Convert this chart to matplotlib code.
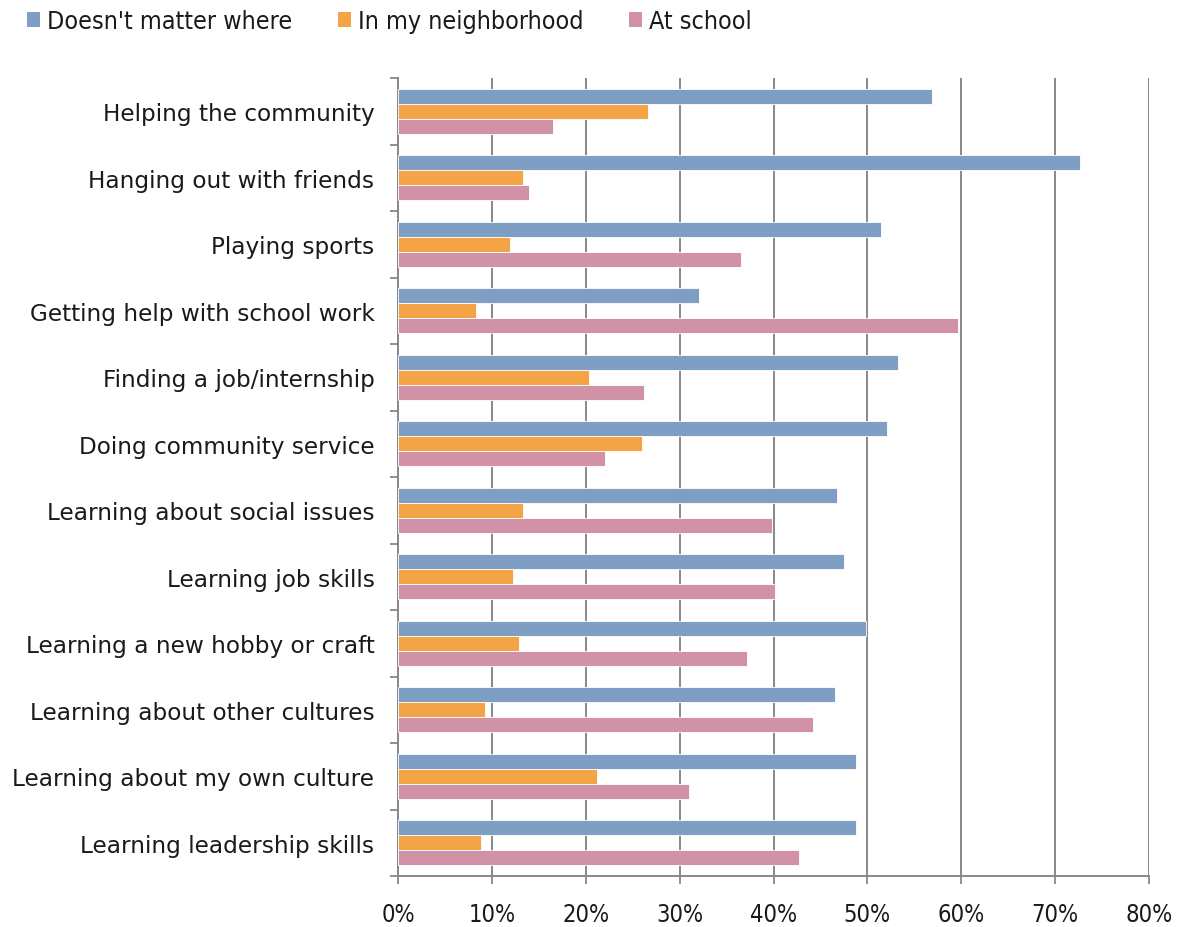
import matplotlib
matplotlib.use("Agg")
import matplotlib.pyplot as plt
import numpy as np
from matplotlib.patches import Patch
from matplotlib.font_manager import FontProperties

categories = [
    "Helping the community",
    "Hanging out with friends",
    "Playing sports",
    "Getting help with school work",
    "Finding a job/internship",
    "Doing community service",
    "Learning about social issues",
    "Learning job skills",
    "Learning a new hobby or craft",
    "Learning about other cultures",
    "Learning about my own culture",
    "Learning leadership skills",
]
series_names = ["Doesn't matter where", "In my neighborhood", "At school"]
doesnt_matter = [56.9, 72.7, 51.4, 32.1, 53.3, 52.1, 46.8, 47.5, 49.9, 46.5, 48.8, 48.8]
neighborhood = [26.6, 13.3, 11.9, 8.3, 20.3, 26.0, 13.3, 12.2, 12.9, 9.3, 21.2, 8.8]
at_school = [16.5, 14.0, 36.5, 59.7, 26.2, 22.0, 39.8, 40.2, 37.2, 44.2, 31.0, 42.7]
x_ticks = [0, 10, 20, 30, 40, 50, 60, 70, 80]
x_ticklabels = ["0%", "10%", "20%", "30%", "40%", "50%", "60%", "70%", "80%"]

colors = ["#7f9ec4", "#f2a446", "#d192a7"]
grid_color = "#888888"
text_color = "#1a1a1a"

narrow = FontProperties(family="DejaVu Sans", stretch="condensed", size=17)

fig = plt.figure(figsize=(11.8, 9.28), dpi=100)
ax = fig.add_axes([398 / 1180, 1 - 877 / 928, (1149 - 398) / 1180, (877 - 79) / 928])

y = np.arange(len(categories))
h = 0.225
for i, (vals, c) in enumerate(zip([doesnt_matter, neighborhood, at_school], colors)):
    ax.barh(y + (i - 1) * h, vals, height=h, color=c, edgecolor="white",
            linewidth=0.6, zorder=3, label=series_names[i])

ax.set_xlim(0, 80)
ax.set_ylim(len(categories) - 0.5, -0.5)
ax.set_xticks(x_ticks)
ax.set_xticklabels(x_ticklabels, fontproperties=narrow, color=text_color)
ax.set_yticks(y)
ax.set_yticklabels(categories, fontsize=16.7, family="DejaVu Sans", color=text_color)
ax.set_yticks(np.arange(-0.5, len(categories)), minor=True)
ax.tick_params(axis="y", which="major", length=0, pad=17)
ax.tick_params(axis="y", which="minor", length=6, width=1.3, color=grid_color)
ax.tick_params(axis="x", which="major", length=6, width=1.3, color=grid_color, pad=13)

ax.grid(axis="x", color=grid_color, linewidth=1.4, zorder=0)
ax.set_axisbelow(True)
for s in ["top", "right"]:
    ax.spines[s].set_visible(False)
for s in ["left", "bottom"]:
    ax.spines[s].set_color(grid_color)
    ax.spines[s].set_linewidth(1.4)

handles = [Patch(facecolor=c, edgecolor="none") for c in colors]
leg_font = FontProperties(family="DejaVu Sans", stretch="condensed", size=18)
leg = fig.legend(handles, series_names, loc="upper left", bbox_to_anchor=(0.004, 1.013), ncol=3,
                 frameon=False, handlelength=0.5, handleheight=0.55, handletextpad=0.28,
                 columnspacing=1.85, prop=leg_font)
for t in leg.get_texts():
    t.set_color(text_color)

fig.savefig("out.png", dpi=100, facecolor="white")
